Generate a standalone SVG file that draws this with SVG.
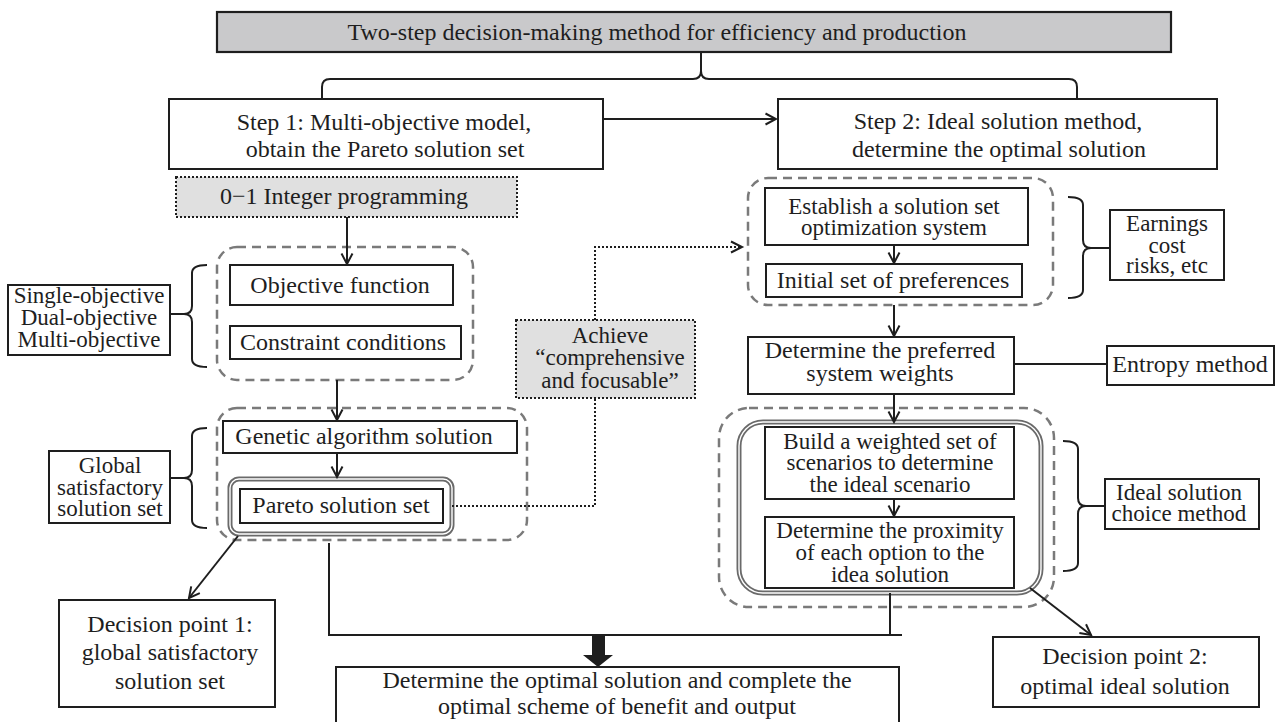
<svg xmlns="http://www.w3.org/2000/svg" width="1284" height="722" viewBox="0 0 1284 722">
<style>
text{font-family:"Liberation Serif","Times New Roman",serif;font-size:24px;fill:#1e1e1e;text-anchor:middle}
.t{font-size:23px}
.box{fill:#fff;stroke:#1e1e1e;stroke-width:2}
.gbox{fill:#c9c9cb;stroke:#1e1e1e;stroke-width:2.2}
.dot{fill:#e0e0e0;stroke:#1e1e1e;stroke-width:2;stroke-dasharray:2 2}
.dash{fill:none;stroke:#7a7a7a;stroke-width:2.5;stroke-dasharray:9 6}
.dbl{fill:none;stroke:#6a6a6a;stroke-width:5}
.dbl2{fill:none;stroke:#fff;stroke-width:1.4}
.ln{fill:none;stroke:#1e1e1e;stroke-width:2}
.arr{fill:none;stroke:#1e1e1e;stroke-width:2;marker-end:url(#ah)}
.dl{fill:none;stroke:#1e1e1e;stroke-width:2;stroke-dasharray:2 2}
</style>
<defs>
<marker id="ah" markerUnits="userSpaceOnUse" markerWidth="14" markerHeight="14" viewBox="0 0 14 14" refX="12" refY="7" orient="auto">
<path d="M1.5,1.5 L12,7 L1.5,12.5" fill="none" stroke="#1e1e1e" stroke-width="2"/>
</marker>
</defs>

<g id="containers">
<rect class="dash" x="217" y="247" width="256" height="133" rx="20"/>
<rect class="dash" x="217" y="408" width="310" height="132" rx="20"/>
<rect class="dash" x="748" y="178" width="305" height="127" rx="20"/>
<rect class="dash" x="719" y="408" width="335" height="199" rx="30"/>
<rect class="dbl" x="230" y="479" width="222" height="55" rx="9"/>
<rect class="dbl2" x="230" y="479" width="222" height="55" rx="9"/>
<rect class="dbl" x="739" y="422" width="302" height="171" rx="24"/>
<rect class="dbl2" x="739" y="422" width="302" height="171" rx="24"/>
</g>

<g id="connectors">
<path class="ln" d="M701,52 V71 Q701,79 693,79 H330 Q322,79 322,87 V99"/>
<path class="ln" d="M701,71 Q701,79 709,79 H1069 Q1077,79 1077,87 V99"/>
<path class="arr" d="M603,119 H776"/>
<path class="arr" d="M347,217 V264"/>
<path class="arr" d="M337,380 V420"/>
<path class="arr" d="M337,454 V477"/>
<path class="dl" d="M452,506 H595 V398"/>
<path class="dl" d="M595,320 V247 H742"/>
<path d="M731,241.5 L742,247 L731,252.5" fill="none" stroke="#1e1e1e" stroke-width="2"/>
<path class="arr" d="M894,245 V263"/>
<path class="arr" d="M894,305 V336"/>
<path class="ln" d="M1014,364 H1107"/>
<path class="arr" d="M894,394 V422"/>
<path class="arr" d="M894,499 V516"/>
<path class="arr" d="M238,536 L189,598"/>
<path class="arr" d="M1030,588 L1091,635"/>
<path class="ln" d="M329,543 V635 H902"/>
<path class="ln" d="M890,593 V635"/>
<path d="M592,635 H605 V655 H613 L598,667 L583,655 H592 Z" fill="#1e1e1e"/>
<path class="ln" d="M207,265 Q192,265 192,273 V306 Q192,314 184,314 Q192,314 192,322 V359 Q192,367 207,367"/>
<path class="ln" d="M184,314 H170"/>
<path class="ln" d="M207,428 Q192,428 192,436 V470 Q192,478 184,478 Q192,478 192,486 V520 Q192,528 207,528"/>
<path class="ln" d="M184,478 H170"/>
<path class="ln" d="M1068,197 Q1083,197 1083,205 V240 Q1083,248 1091,248 Q1083,248 1083,256 V290 Q1083,298 1068,298"/>
<path class="ln" d="M1091,248 H1110"/>
<path class="ln" d="M1063,441 Q1078,441 1078,449 V498 Q1078,506 1086,506 Q1078,506 1078,514 V563 Q1078,571 1063,571"/>
<path class="ln" d="M1086,506 H1105"/>
</g>

<g id="title"><rect class="gbox" x="217" y="12" width="954" height="40"/><text x="657" y="40">Two-step decision-making method for efficiency and production</text></g>
<g id="step1"><rect class="box" x="169" y="99" width="434" height="70"/><text x="384" y="130">Step 1: Multi-objective model,</text><text x="385" y="157">obtain the Pareto solution set</text></g>
<g id="step2"><rect class="box" x="778" y="99" width="439" height="70"/><text x="998" y="129">Step 2: Ideal solution method,</text><text x="999" y="157">determine the optimal solution</text></g>
<g id="integer"><rect class="dot" x="176" y="177" width="341" height="40"/><text x="344" y="204">0−1 Integer programming</text></g>
<g id="objective"><rect class="box" x="230" y="265" width="223" height="40"/><text x="340" y="293">Objective function</text></g>
<g id="constraint"><rect class="box" x="230" y="326" width="231" height="33"/><text x="343" y="350">Constraint conditions</text></g>
<g id="single"><rect class="box" x="8" y="285" width="162" height="70"/><text class="t" x="89" y="303">Single-objective</text><text class="t" x="89" y="325">Dual-objective</text><text class="t" x="89" y="347">Multi-objective</text></g>
<g id="genetic"><rect class="box" x="223" y="421" width="294" height="32"/><text x="364" y="444">Genetic algorithm solution</text></g>
<g id="pareto"><rect class="box" x="240" y="489" width="203" height="34"/><text x="341" y="513">Pareto solution set</text></g>
<g id="global"><rect class="box" x="49" y="451" width="121" height="72"/><text class="t" x="110" y="473">Global</text><text class="t" x="110" y="495">satisfactory</text><text class="t" x="110" y="516">solution set</text></g>
<g id="achieve"><rect class="dot" x="516" y="320" width="179" height="78"/><text class="t" x="610" y="343">Achieve</text><text class="t" x="610" y="365">“comprehensive</text><text class="t" x="610" y="388">and focusable”</text></g>
<g id="establish"><rect class="box" x="765" y="188" width="263" height="57"/><text class="t" x="894" y="214">Establish a solution set</text><text class="t" x="894" y="235">optimization system</text></g>
<g id="initial"><rect class="box" x="766" y="264" width="256" height="33"/><text x="893" y="288">Initial set of preferences</text></g>
<g id="earnings"><rect class="box" x="1110" y="210" width="114" height="70"/><text class="t" x="1167" y="231">Earnings</text><text class="t" x="1167" y="253">cost</text><text class="t" x="1167" y="273">risks, etc</text></g>
<g id="weights"><rect class="box" x="748" y="337" width="266" height="57"/><text x="880" y="358">Determine the preferred</text><text x="880" y="381">system weights</text></g>
<g id="entropy"><rect class="box" x="1107" y="346" width="167" height="39"/><text x="1190" y="372">Entropy method</text></g>
<g id="build"><rect class="box" x="765" y="427" width="249" height="72"/><text class="t" x="890" y="449">Build a weighted set of</text><text class="t" x="890" y="470">scenarios to determine</text><text class="t" x="890" y="492">the ideal scenario</text></g>
<g id="proximity"><rect class="box" x="765" y="517" width="249" height="71"/><text class="t" x="890" y="538">Determine the proximity</text><text class="t" x="890" y="560">of each option to the</text><text class="t" x="890" y="582">idea solution</text></g>
<g id="choice"><rect class="box" x="1105" y="479" width="154" height="50"/><text class="t" x="1179" y="500">Ideal solution</text><text class="t" x="1179" y="521">choice method</text></g>
<g id="decision1"><rect class="box" x="59" y="600" width="216" height="107"/><text x="170" y="632">Decision point 1:</text><text x="170" y="660">global satisfactory</text><text x="170" y="689">solution set</text></g>
<g id="decision2"><rect class="box" x="993" y="637" width="266" height="70"/><text x="1125" y="664">Decision point 2:</text><text x="1125" y="694">optimal ideal solution</text></g>
<g id="final"><rect class="box" x="336" y="667" width="563" height="70"/><text x="617" y="688">Determine the optimal solution and complete the</text><text x="617" y="714">optimal scheme of benefit and output</text></g>
</svg>
